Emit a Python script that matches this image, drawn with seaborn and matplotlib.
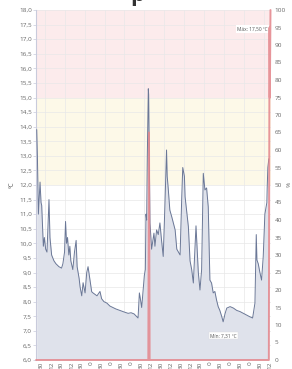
import matplotlib
matplotlib.use("Agg")
import matplotlib.pyplot as plt
import seaborn as sns
import pandas as pd

# temperature series (minutes from first tick, degC)
minutes = [-15, -13, -10, -5, -2, 0, 3, 5, 8, 12, 16, 22, 25, 30, 37, 43, 52, 60, 64, 69,
           72, 75, 78, 82, 85, 88, 94, 99, 104, 107, 113, 116, 121, 125, 131, 136, 140, 146,
           151, 155, 161, 167, 176, 181, 188, 197, 206, 215, 224, 236, 248, 261, 270, 279,
           286, 291, 295, 298, 302, 307, 310, 313, 315, 317, 319, 322, 323, 325, 327, 332,
           336, 339, 342, 347, 352, 357, 362, 367, 372, 377, 379, 382, 387, 393, 403, 408,
           418, 423, 426, 431, 433, 443, 448, 453, 458, 466, 473, 478, 483, 488, 493, 498,
           503, 508, 513, 518, 523, 528, 533, 538, 544, 548, 554, 559, 569, 579, 589, 599,
           609, 619, 629, 637, 644, 648, 650, 654, 659, 664, 669, 674, 680, 681, 683, 686]
temps = [13.9, 13.0, 11.0, 12.1, 11.4, 11.3, 10.4, 9.9, 10.2, 9.8, 9.7, 11.5, 10.2, 9.6, 9.4,
         9.3, 9.2, 9.15, 9.3, 9.7, 10.75, 10.0, 10.2, 9.6, 9.9, 9.4, 9.1, 9.7, 10.1, 9.2,
         8.8, 8.5, 8.2, 8.65, 8.3, 9.0, 9.2, 8.74, 8.34, 8.3, 8.25, 8.2, 8.35, 8.1, 8.0,
         7.95, 7.85, 7.8, 7.75, 7.7, 7.65, 7.6, 7.62, 7.58, 7.5, 7.44, 8.3, 8.1, 7.8, 8.5,
         8.9, 9.1, 11.0, 10.8, 13.0, 15.3, 15.1, 13.0, 10.7, 9.8, 10.1, 10.35, 9.9, 10.46,
         10.3, 10.7, 10.1, 9.55, 11.25, 13.2, 12.3, 11.9, 11.14, 10.9, 10.46, 9.8, 9.6,
         11.6, 12.6, 12.3, 11.6, 10.57, 9.4, 9.1, 8.64, 10.6, 9.0, 8.4, 9.1, 12.4, 11.83,
         11.9, 11.25, 8.74, 8.64, 8.3, 8.35, 8.06, 7.83, 7.7, 7.48, 7.31, 7.6, 7.78, 7.83,
         7.78, 7.7, 7.66, 7.6, 7.54, 7.48, 7.44, 7.95, 10.3, 9.43, 9.3, 9.0, 8.74, 9.54,
         11.0, 11.4, 11.9, 12.6, 12.9]

# humidity series (%), right axis
hum_minutes = [-17, 322, 324, 326, 686, 688, 689, 691]
hum_values = [0, 0, 65, 0, 0, 95, 75, 100]

tick_minutes = list(range(0, 720, 30))
tick_labels = ["30", "12", "30", "12", "30", "0", "30", "0", "30", "0", "30", "12"] * 2

df = pd.DataFrame({"t": minutes, "temp": temps})
hum = pd.DataFrame({"t": hum_minutes, "hum": hum_values})

sns.set_style("white")
plt.rcParams["font.family"] = ["Open Sans", "DejaVu Sans"]

fig = plt.figure(figsize=(2.92, 3.69), dpi=100)
ax = fig.add_axes([36 / 292, 9 / 369, 234.5 / 292, 350 / 369])

ax.axhspan(15, 18, color="#fcebec", zorder=0, lw=0)
ax.axhspan(12, 15, color="#fdf9e8", zorder=0, lw=0)

ax.fill_between(df["t"], 6, df["temp"], color="#dfe2eb", zorder=1, lw=0)
sns.lineplot(data=df, x="t", y="temp", ax=ax, color="#6a7796", lw=0.7, zorder=3)

ax.set_xlim(-17.2, 691)
ax.set_ylim(6, 18)
yt = [6 + 0.5 * i for i in range(25)]
ax.set_yticks(yt)
ax.set_yticklabels([f"{v:.1f}".replace(".", ",") for v in yt], fontsize=4.6, color="#666666")
ax.set_xticks(tick_minutes)
ax.set_xticklabels(tick_labels, rotation=90, fontsize=4.6, color="#666666")
ax.set_xticks([10 + 60 * k for k in range(12)], minor=True)
ax.grid(False)
ax.grid(True, axis="y", color="#e8e8e8", lw=0.5, zorder=0.5)
ax.grid(True, axis="x", which="minor", color="#e8e8e8", lw=0.5, zorder=0.5)
ax.set_axisbelow(True)
ax.tick_params(axis="y", length=2, width=0.5, color="#c9cbdc", pad=1)
ax.tick_params(axis="x", which="both", length=0, pad=1)
ax.set_xlabel("")
ax.set_ylabel("ºC", fontsize=4.8, color="#666666", labelpad=2)
for s in ["top", "right", "bottom"]:
    ax.spines[s].set_visible(False)
ax.spines["left"].set_color("#c9cbdc")
ax.spines["left"].set_linewidth(0.8)

ax2 = ax.twinx()
sns.lineplot(data=hum, x="t", y="hum", ax=ax2, color="#e4868c", lw=1.4, alpha=0.85, clip_on=False)
ax2.set_ylim(0, 100)
ax2.set_yticks(range(0, 101, 5))
ax2.set_yticklabels([str(v) for v in range(0, 101, 5)], fontsize=4.6, color="#666666")
ax2.tick_params(axis="y", length=0, pad=3)
ax2.set_ylabel("")
for s in ["top", "right", "bottom", "left"]:
    ax2.spines[s].set_visible(False)
ax2.grid(False)
fig.text(289.5 / 292, 0.5, "%", fontsize=4.6, color="#666666", rotation=90,
         ha="center", va="center")

ax.text(683, 17.35, "Máx: 17,50 ºC", fontsize=3.5, color="#555555", ha="right", va="center",
        zorder=5, bbox=dict(facecolor="white", edgecolor="none", pad=0.8))
ax.text(548, 6.83, "Mín: 7,31 ºC", fontsize=3.5, color="#555555", ha="center", va="center",
        zorder=5, bbox=dict(facecolor="white", edgecolor="#dddddd", lw=0.3, pad=0.8))

fig.text(130 / 292, 0.998, "p", fontsize=16, fontweight="bold", color="#333333",
         ha="left", va="baseline")

fig.savefig("out.png", dpi=100)
